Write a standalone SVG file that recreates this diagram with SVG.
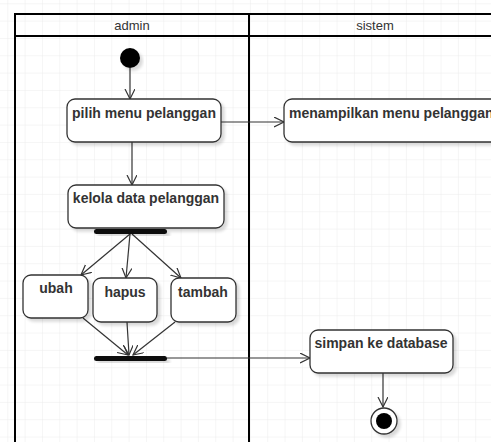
<svg xmlns="http://www.w3.org/2000/svg" width="491" height="442" viewBox="0 0 491 442">
<defs>
<pattern id="grid" x="7.3" y="3.3" width="17.33" height="17.33" patternUnits="userSpaceOnUse">
<path d="M 17.33 0 L 0 0 0 17.33" fill="none" stroke="#ebebeb" stroke-width="1"/>
</pattern>
<marker id="arr" markerWidth="12" markerHeight="12" refX="10" refY="5" orient="auto" markerUnits="userSpaceOnUse">
<path d="M0,0 L10,5 L0,10" fill="none" stroke="#333" stroke-width="1.2"/>
</marker>
<filter id="sh" x="-10%" y="-10%" width="130%" height="140%">
<feGaussianBlur in="SourceAlpha" stdDeviation="1.5"/>
<feOffset dx="3" dy="3" result="b"/>
<feComponentTransfer><feFuncA type="linear" slope="0.15"/></feComponentTransfer>
<feMerge><feMergeNode/><feMergeNode in="SourceGraphic"/></feMerge>
</filter>
</defs>
<style>
.box{fill:#fff;stroke:#333;stroke-width:1.3}
.lbl{font-family:"Liberation Sans",Arial,sans-serif;font-size:14px;font-weight:bold;fill:#333}
.hdr{font-family:"Liberation Sans",Arial,sans-serif;font-size:13px;fill:#333;text-anchor:middle}
.edge{stroke:#333;stroke-width:1.2;fill:none;marker-end:url(#arr)}
.bar{fill:#111}
</style>
<rect width="491" height="442" fill="#fff"/>
<rect width="491" height="442" fill="url(#grid)"/>
<g id="lanes">
<rect x="15" y="14" width="490" height="440" fill="none" stroke="#000" stroke-width="2"/>
<line x1="15" y1="36" x2="491" y2="36" stroke="#000" stroke-width="2"/>
<line x1="249" y1="14" x2="249" y2="442" stroke="#000" stroke-width="2"/>
<text class="hdr" x="132" y="30">admin</text>
<text class="hdr" x="375" y="30">sistem</text>
</g>
<g id="connectors">
<line class="edge" x1="130" y1="68" x2="130" y2="99"/>
<line class="edge" x1="221" y1="122" x2="284" y2="122"/>
<line class="edge" x1="132" y1="142" x2="132" y2="185"/>
<line class="edge" x1="130" y1="234" x2="81" y2="275"/>
<line class="edge" x1="130" y1="234" x2="126" y2="278"/>
<line class="edge" x1="132" y1="234" x2="181" y2="278"/>
<line class="edge" x1="83" y1="318" x2="128" y2="355"/>
<line class="edge" x1="127" y1="322" x2="129" y2="355"/>
<line class="edge" x1="175" y1="322" x2="133" y2="355"/>
<line class="edge" x1="167" y1="358" x2="310" y2="358"/>
<line class="edge" x1="383" y1="373" x2="383" y2="407"/>
</g>
<g id="start"><circle cx="130" cy="58" r="10" fill="#000" filter="url(#sh)"/></g>
<g id="pilih"><rect class="box" x="67" y="99" width="154" height="43" rx="8" filter="url(#sh)"/><text class="lbl" x="144" y="118" text-anchor="middle">pilih menu pelanggan</text></g>
<g id="menampilkan"><rect class="box" x="284" y="99" width="220" height="43" rx="8" filter="url(#sh)"/><text class="lbl" x="289" y="118">menampilkan menu pelanggan</text></g>
<g id="kelola"><rect class="box" x="68" y="185" width="156" height="43" rx="8" filter="url(#sh)"/><text class="lbl" x="146" y="203" text-anchor="middle">kelola data pelanggan</text></g>
<g id="fork"><rect class="bar" x="94" y="229" width="73" height="5" rx="2.5" filter="url(#sh)"/></g>
<g id="ubah"><rect class="box" x="23" y="275" width="65" height="43" rx="8" filter="url(#sh)"/><text class="lbl" x="56" y="293" text-anchor="middle">ubah</text></g>
<g id="hapus"><rect class="box" x="93" y="278" width="64" height="44" rx="8" filter="url(#sh)"/><text class="lbl" x="125" y="297" text-anchor="middle">hapus</text></g>
<g id="tambah"><rect class="box" x="171" y="278" width="65" height="44" rx="8" filter="url(#sh)"/><text class="lbl" x="203" y="297" text-anchor="middle">tambah</text></g>
<g id="join"><rect class="bar" x="94" y="356" width="73" height="5" rx="2.5" filter="url(#sh)"/></g>
<g id="simpan"><rect class="box" x="310" y="330" width="143" height="43" rx="8" filter="url(#sh)"/><text class="lbl" x="381" y="348" text-anchor="middle">simpan ke database</text></g>
<g id="end"><circle cx="384" cy="421" r="13" fill="#fff" stroke="#333" stroke-width="1.3" filter="url(#sh)"/><circle cx="384" cy="421" r="8" fill="#000"/></g>
</svg>
